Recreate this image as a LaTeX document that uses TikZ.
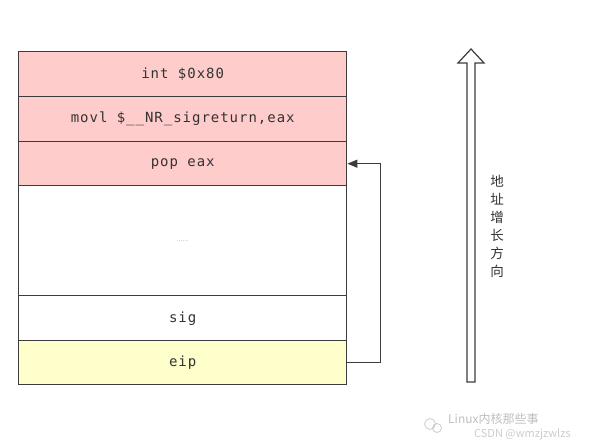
\documentclass[tikz,border=0pt]{standalone}
\usepackage{fontspec}
\usetikzlibrary{arrows.meta}
\newfontfamily\monof[LetterSpace=7]{DejaVu Sans Mono}
\newfontfamily\cjk{Noto Sans CJK SC}
\definecolor{pinkfill}{HTML}{FFCCCC}
\definecolor{yellowfill}{HTML}{FFFFCC}
\definecolor{edge}{HTML}{3C3C3C}
\tikzset{
  cell/.style={draw=edge, line width=1.4pt, minimum width=328pt, inner sep=0pt, anchor=north west,
    font=\monof\fontsize{14}{16}\selectfont, text=black!80},
  link/.style={draw=edge, line width=1.4pt, -{Triangle[length=10pt,width=8pt]}},
}
\begin{document}
\begin{tikzpicture}[x=1pt,y=-1pt]
\useasboundingbox (0,0) rectangle (607,447);
\node[cell, fill=pinkfill, minimum height=45pt] (int) at (18,51) {int \$0x80};
\node[cell, fill=pinkfill, minimum height=45pt] (movl) at (18,96) {movl \$\_\_NR\_sigreturn,eax};
\node[cell, fill=pinkfill, minimum height=44pt] (pop) at (18,141) {pop eax};
\node[cell, fill=white, minimum height=110pt, font=\fontsize{6}{7}\selectfont, text=black!60] (dots) at (18,185) {......};
\node[cell, fill=white, minimum height=45pt] (sig) at (18,295) {sig};
\node[cell, fill=yellowfill, minimum height=44pt] (eip) at (18,340) {eip};
\draw[link] (eip.east) -- ++(33,0) |- (pop.east);
% hollow address arrow
\draw[draw=edge, line width=1.2pt, fill=white, line join=miter]
  (467,382) -- (467,63) -- (458,63) -- (471,49) -- (484,63) -- (475,63) -- (475,382) -- cycle;
\node[font=\cjk\fontsize{13.5}{18}\selectfont, text=black!80, align=center, inner sep=0pt] (dir) at (497,226)
  {地\\址\\增\\长\\方\\向};
% watermark
\node[font=\fontsize{12}{13}\selectfont\cjk, text=black!25, inner sep=0pt, anchor=west] (wm1) at (448,419) {Linux内核那些事};
\node[font=\fontsize{11}{12}\selectfont\cjk, text=black!20, inner sep=0pt, anchor=west] (wm2) at (474,434) {CSDN @wmzjzwlzs};
\draw[black!20, line width=0.8pt] (430,424) circle (5.5) (437,428) circle (4.5);
\end{tikzpicture}
\end{document}
